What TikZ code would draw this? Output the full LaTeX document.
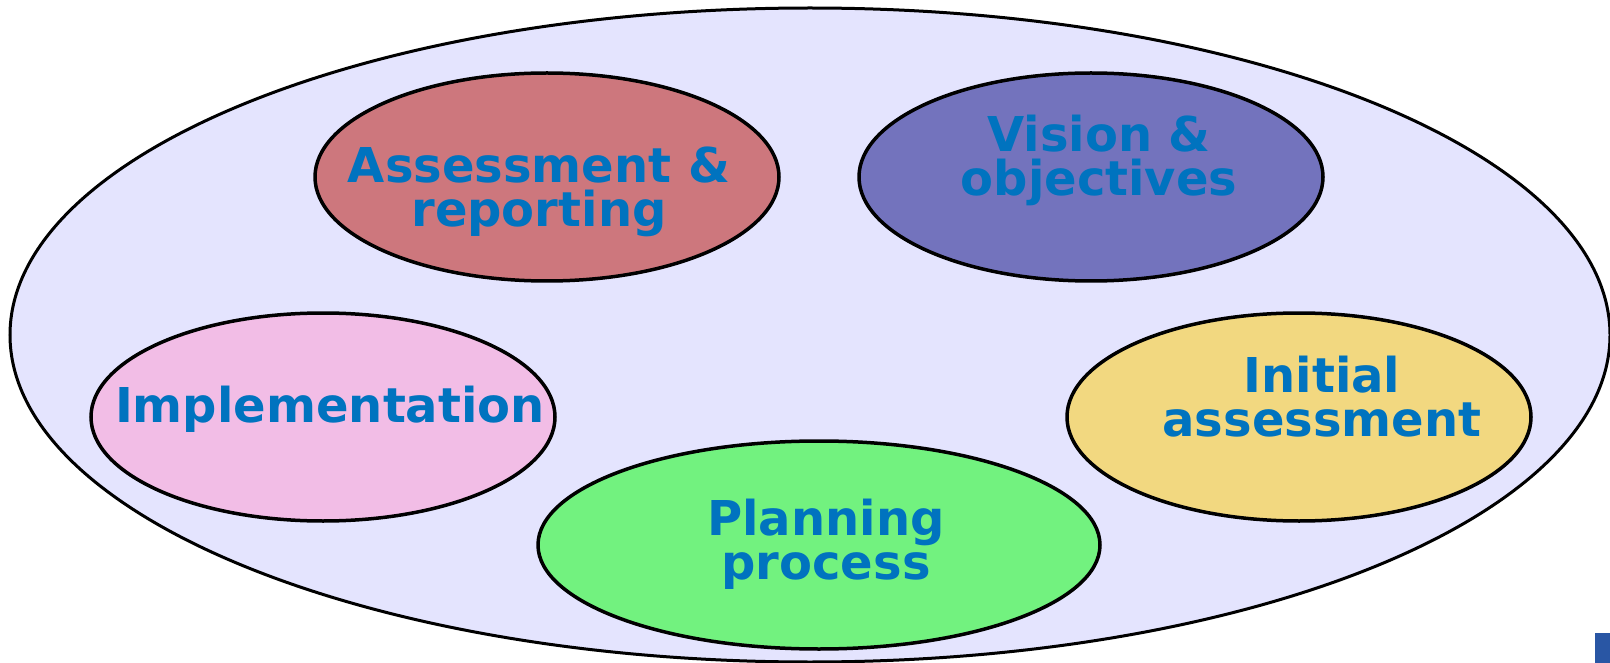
\documentclass[tikz,border=0pt]{standalone}
\usepackage{fontspec}
\setmainfont{DejaVu Sans}
\usetikzlibrary{shapes.geometric}

\definecolor{fondo}{RGB}{228,228,254}
\definecolor{txtazul}{RGB}{0,115,191}
\definecolor{rojo}{RGB}{205,119,125}
\definecolor{morado}{RGB}{115,115,189}
\definecolor{rosa}{RGB}{242,189,230}
\definecolor{amarillo}{RGB}{242,216,128}
\definecolor{verde}{RGB}{114,242,127}
\definecolor{azulmarca}{RGB}{41,86,164}

\tikzset{
  burbuja/.style={ellipse, draw=black, line width=3.5pt, inner sep=0pt,
    minimum width=464pt, minimum height=208pt},
  etiqueta/.style={text=txtazul, align=center,
    font=\bfseries\fontsize{48}{44}\selectfont}
}

\begin{document}
\begin{tikzpicture}[x=1pt, y=-1pt]

    % Marco de la imagen
    \useasboundingbox (0,0) rectangle (1610,663);

    % Elipse exterior
    \draw[line width=3pt, fill=fondo] (810,335) ellipse [x radius=800, y radius=327];

    % Marca azul (esquina inferior derecha)
    \fill[azulmarca] (1595,633) rectangle (1610,663);

    % Elipses interiores
    \node[burbuja, fill=rojo] (evaluacion) at (547,177) {};
    \node[burbuja, fill=morado] (vision) at (1091,177) {};
    \node[burbuja, fill=rosa] (implementacion) at (323,417) {};
    \node[burbuja, fill=amarillo] (inicial) at (1299,417) {};
    \node[burbuja, fill=verde, minimum width=562pt] (planificacion) at (819,545) {};

    % Textos
    \node[etiqueta] (tevaluacion) at ([shift={(-8,15)}]evaluacion.center) {Assessment \&\\reporting};
    \node[etiqueta] (tvision) at ([shift={(8,-17)}]vision.center) {Vision \&\\objectives};
    \node[etiqueta] (timplementacion) at ([shift={(7,-8)}]implementacion.center) {Implementation};
    \node[etiqueta] (tinicial) at ([shift={(23,-20)}]inicial.center) {Initial\\assessment};
    \node[etiqueta] (tplanificacion) at ([shift={(7,-1)}]planificacion.center) {Planning\\process};

\end{tikzpicture}
\end{document}
